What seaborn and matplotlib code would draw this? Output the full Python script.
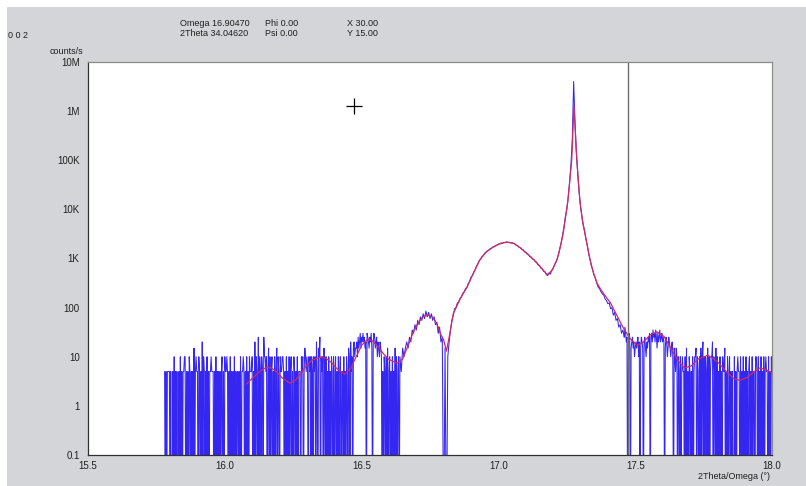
import numpy as np
import pandas as pd
import matplotlib
matplotlib.use("Agg")
import matplotlib.pyplot as plt
from matplotlib.patches import Rectangle
from matplotlib.ticker import FixedLocator, FixedFormatter, MultipleLocator, NullLocator
import seaborn as sns

sns.set_style("white")
plt.rcParams['font.family'] = ['Liberation Sans', 'DejaVu Sans']

# ---- measured scan (counts/s) ----
# low-intensity tails: 0.0025 deg step
left_start, left_step = 15.78, 0.0025
counts_left = [
    5, 0, 5, 0, 5, 5, 5, 5, 0, 5, 0, 0, 5, 0, 10, 0, 5, 0, 5, 0,
    0, 5, 0, 10, 0, 5, 0, 5, 5, 10, 10, 0, 5, 0, 5, 0, 10, 5, 0, 5,
    0, 5, 0, 15, 0, 5, 10, 5, 5, 0, 10, 5, 0, 5, 0, 20, 0, 10, 5, 0,
    5, 0, 10, 0, 5, 0, 5, 5, 10, 5, 5, 5, 0, 5, 0, 10, 0, 5, 0, 5,
    0, 5, 0, 5, 10, 0, 5, 0, 10, 5, 5, 10, 5, 0, 5, 0, 10, 0, 5, 0,
    5, 0, 10, 0, 5, 0, 5, 5, 0, 5, 0, 10, 0, 5, 5, 10, 5, 0, 5, 0,
    10, 0, 5, 0, 10, 5, 5, 5, 10, 0, 5, 0, 20, 0, 10, 5, 0, 25, 0, 10,
    5, 0, 10, 5, 0, 25, 10, 10, 5, 10, 0, 5, 15, 0, 10, 0, 5, 10, 0, 5,
    0, 10, 0, 5, 15, 0, 10, 5, 0, 10, 5, 5, 10, 10, 5, 0, 5, 0, 10, 0,
    5, 0, 10, 0, 5, 10, 0, 5, 0, 10, 5, 0, 5, 0, 10, 0, 5, 5, 5, 0,
    10, 5, 10, 0, 5, 15, 10, 5, 10, 5, 0, 10, 5, 10, 0, 10, 5, 0, 10, 5,
    10, 0, 20, 5, 0, 15, 10, 25, 0, 10, 5, 10, 0, 15, 5, 0, 10, 0, 5, 0,
    10, 0, 5, 0, 10, 5, 0, 10, 0, 5, 10, 0, 5, 0, 10, 0, 5, 10, 0, 5,
    5, 0, 10, 0, 5, 0, 10, 5, 0, 15, 10, 0, 20, 5, 10, 0, 15, 20, 10, 15,
    15, 20, 10, 25, 15, 20, 30, 15, 25, 20, 30, 20, 25, 15, 20, 0, 30, 25, 20, 15,
    25, 20, 30, 15, 0, 20, 30, 25, 15, 20, 25, 10, 20, 15, 10, 20, 15, 10, 0, 5,
    0, 10, 5, 0, 10, 0, 15, 0, 5, 10, 0, 5, 0, 10, 0, 5, 0, 15, 0, 10,
    0, 5, 10, 0,
]

# main layer and substrate peak: 0.005 deg step
mid_start, mid_step = 16.64, 0.005
counts_mid = [
    10, 5, 15, 10, 15, 20, 15, 25, 20, 35,
    30, 45, 35, 55, 45, 65, 55, 75, 60, 85,
    65, 80, 60, 75, 55, 65, 45, 50, 30, 40,
    20, 25, 0, 15, 0, 10, 20, 35, 55, 70,
    95, 100, 125, 130, 155, 165, 195, 210, 245, 255,
    310, 345, 420, 450, 530, 590, 700, 770, 910, 960,
    1100, 1150, 1280, 1330, 1450, 1480, 1590, 1620, 1720, 1740,
    1850, 1860, 1960, 1980, 2070, 2050, 2140, 2100, 2180, 2120,
    2150, 2080, 2090, 2020, 2000, 1850, 1830, 1700, 1670, 1540,
    1510, 1380, 1340, 1230, 1200, 1090, 1070, 970, 950, 860,
    840, 740, 720, 640, 620, 550, 540, 470, 450, 500,
    480, 580, 620, 750, 830, 990, 1220, 1650, 2150, 3100,
    4500, 7200, 10000, 17500, 34000, 80000, 250000, 4000000, 600000, 140000,
    52000, 22000, 11500, 7300, 4800, 3600, 2500, 1850, 1250, 960,
    700, 580, 450, 390, 310, 260, 240, 210, 190, 180,
    150, 140, 120, 125, 95, 100, 70, 80, 55, 60,
    40, 45, 30,
]

right_start, right_step = 17.455, 0.0025
counts_right = [
    35, 30, 25, 40, 30, 20, 25, 0, 20, 30, 25, 0, 15, 20, 25, 15, 20, 10, 15, 20,
    15, 20, 25, 10, 20, 0, 15, 25, 20, 15, 0, 20, 25, 15, 10, 20, 15, 25, 20, 30,
    0, 25, 30, 20, 35, 25, 30, 20, 35, 25, 15, 30, 20, 25, 35, 20, 25, 30, 20, 25,
    20, 0, 15, 25, 20, 10, 15, 25, 20, 15, 10, 15, 20, 10, 0, 15, 10, 5, 15, 10,
    0, 10, 5, 0, 10, 0, 5, 10, 5, 5, 0, 10, 0, 15, 0, 5, 0, 10, 5, 0,
    5, 0, 10, 0, 5, 10, 10, 15, 0, 10, 5, 0, 10, 0, 15, 0, 10, 20, 0, 10,
    0, 10, 5, 0, 15, 0, 10, 0, 5, 10, 10, 20, 0, 10, 5, 0, 15, 0, 10, 0,
    5, 0, 10, 0, 5, 0, 10, 5, 5, 15, 0, 5, 0, 10, 0, 5, 10, 0, 5, 0,
    5, 0, 0, 10, 0, 5, 0, 5, 10, 5, 5, 0, 10, 0, 5, 0, 10, 0, 5, 0,
    10, 0, 5, 0, 5, 10, 0, 5, 0, 10, 0, 5, 5, 0, 10, 10, 5, 0, 10, 0,
    5, 0, 10, 0, 5, 0, 10, 0, 5, 10, 5, 5, 0, 10, 0, 5, 0, 10, 5,
]

# ---- simulated fit ----
fit_2theta = [16.08, 16.10, 16.12, 16.14, 16.155, 16.17, 16.19, 16.21, 16.238, 16.26,
              16.28, 16.30, 16.32, 16.348, 16.37, 16.39, 16.41, 16.439, 16.46, 16.48,
              16.50, 16.523, 16.54, 16.56, 16.58, 16.60, 16.63, 16.65, 16.67, 16.69,
              16.71, 16.725, 16.742, 16.76, 16.775, 16.79, 16.80, 16.81, 16.82, 16.835,
              16.86, 16.885, 16.91, 16.932, 16.955, 16.98, 17.005, 17.03, 17.055, 17.08,
              17.105, 17.13, 17.155, 17.178, 17.195, 17.214, 17.225, 17.237, 17.247, 17.254,
              17.262, 17.268, 17.272, 17.276, 17.280, 17.284, 17.287, 17.292, 17.298, 17.306,
              17.316, 17.325, 17.335, 17.347, 17.36, 17.375, 17.39, 17.41, 17.43, 17.455,
              17.48, 17.507, 17.53, 17.555, 17.58, 17.605, 17.63, 17.655, 17.68, 17.705,
              17.73, 17.766, 17.80, 17.83, 17.86, 17.883, 17.91, 17.935, 17.956, 17.98, 18.0]
fit_counts = [2.8, 3.6, 4.6, 5.6, 6.1, 5.9, 4.9, 3.7, 2.9, 3.4,
              4.8, 6.8, 8.6, 9.8, 9.3, 7.6, 5.7, 4.4, 5.8, 10,
              17, 23, 21, 16, 11.5, 8.8, 7.4, 9, 17, 33,
              52, 65, 71, 64, 48, 28, 22, 13, 25, 75,
              150, 260, 520, 940, 1350, 1700, 2000, 2150, 2050, 1650,
              1250, 940, 660, 470, 560, 940, 1600, 3300, 8000, 15000,
              45000, 100000, 350000, 1.3e6, 500000, 180000, 100000, 40000, 15000, 6500,
              3300, 1800, 940, 520, 320, 230, 175, 124, 75, 40,
              24, 17, 20, 28, 32, 26, 15, 8.5, 5.9, 6.5,
              9, 10.7, 8, 5.2, 3.6, 3.3, 3.8, 5, 5.9, 5.4, 4.7]

y_ticks = [0.1, 1, 10, 100, 1e3, 1e4, 1e5, 1e6, 1e7]
y_tick_labels = ["0.1", "1", "10", "100", "1K", "10K", "100K", "1M", "10M"]
x_ticks = [15.5, 16.0, 16.5, 17.0, 17.5, 18.0]
x_tick_labels = ["15.5", "16.0", "16.5", "17.0", "17.5", "18.0"]

cursor_2theta = 17.474
cross_2theta, cross_cps = 16.474, 1.3e6

reflection = "0 0 2"
header_col1 = ["Omega 16.90470", "2Theta 34.04620"]
header_col2 = ["Phi 0.00", "Psi 0.00"]
header_col3 = ["X 30.00", "Y 15.00"]

# ---- assemble the scan table ----
frames = []
for start, step, vals in [(left_start, left_step, counts_left),
                          (mid_start, mid_step, counts_mid),
                          (right_start, right_step, counts_right)]:
    vals = np.asarray(vals, dtype=float)
    frames.append(pd.DataFrame({"two_theta": start + step * np.arange(len(vals)),
                                "cps": vals}))
scan = pd.concat(frames, ignore_index=True)
# zero-count channels drop to the floor of the log axis
scan["cps_plot"] = np.where(scan["cps"] > 0, scan["cps"], 1e-3)
fit = pd.DataFrame({"two_theta": fit_2theta, "cps": fit_counts})

W, H = 806, 486
fig = plt.figure(figsize=(W / 100, H / 100), dpi=100, facecolor="white")
fig.patches.append(Rectangle((7 / W, 0), 1 - 7 / W, 1 - 7 / H, transform=fig.transFigure,
                             facecolor="#d4d5d9", edgecolor="none", zorder=-10))

ax = fig.add_axes([88 / W, 1 - 455 / H, 684 / W, 393 / H])
ax.set_facecolor("white")

sns.lineplot(data=scan, x="two_theta", y="cps_plot", ax=ax, color="#3526f2",
             linewidth=0.75, estimator=None, sort=False)
sns.lineplot(data=fit, x="two_theta", y="cps", ax=ax, color="#d02a62",
             linewidth=0.9, estimator=None, sort=False)

ax.set_yscale("log")
ax.set_xlim(15.5, 18.0)
ax.set_ylim(0.1, 1e7)

ax.axvline(cursor_2theta, color="#6e6e6e", linewidth=1.0)
ax.plot([cross_2theta], [cross_cps], marker="+", markersize=11, markeredgewidth=0.9,
        color="black", linestyle="none")

ax.yaxis.set_major_locator(FixedLocator(y_ticks))
ax.yaxis.set_major_formatter(FixedFormatter(y_tick_labels))
ax.yaxis.set_minor_locator(NullLocator())
ax.xaxis.set_major_locator(FixedLocator(x_ticks))
ax.xaxis.set_major_formatter(FixedFormatter(x_tick_labels))
ax.xaxis.set_minor_locator(MultipleLocator(0.25))

ax.tick_params(axis="both", which="both", direction="out", width=0.8,
               color="#303030", labelcolor="#202020", labelsize=7, pad=1)
ax.tick_params(axis="y", which="both", length=5)
ax.tick_params(axis="x", which="both", length=4, pad=0)
ax.set_xlabel("")
ax.set_ylabel("")

for side in ["left", "bottom"]:
    ax.spines[side].set_color("#303030")
    ax.spines[side].set_linewidth(0.9)
for side in ["top", "right"]:
    ax.spines[side].set_color("#8c8c8c")
    ax.spines[side].set_linewidth(0.9)

txt = dict(fontsize=6.5, color="#202020")
fig.text(8 / W, 1 - 35 / H, reflection, ha="left", va="center", **txt)
for col, x0 in [(header_col1, 180), (header_col2, 265), (header_col3, 347)]:
    fig.text(x0 / W, 1 - 24 / H, col[0], ha="left", va="center", **txt)
    fig.text(x0 / W, 1 - 34 / H, col[1], ha="left", va="center", **txt)
fig.text(83 / W, 1 - 52 / H, "counts/s", ha="right", va="center", **txt)
fig.text(770 / W, 1 - 476 / H, "2Theta/Omega (°)", ha="right", va="center", **txt)

fig.savefig("out.png", dpi=100, facecolor=fig.get_facecolor())
